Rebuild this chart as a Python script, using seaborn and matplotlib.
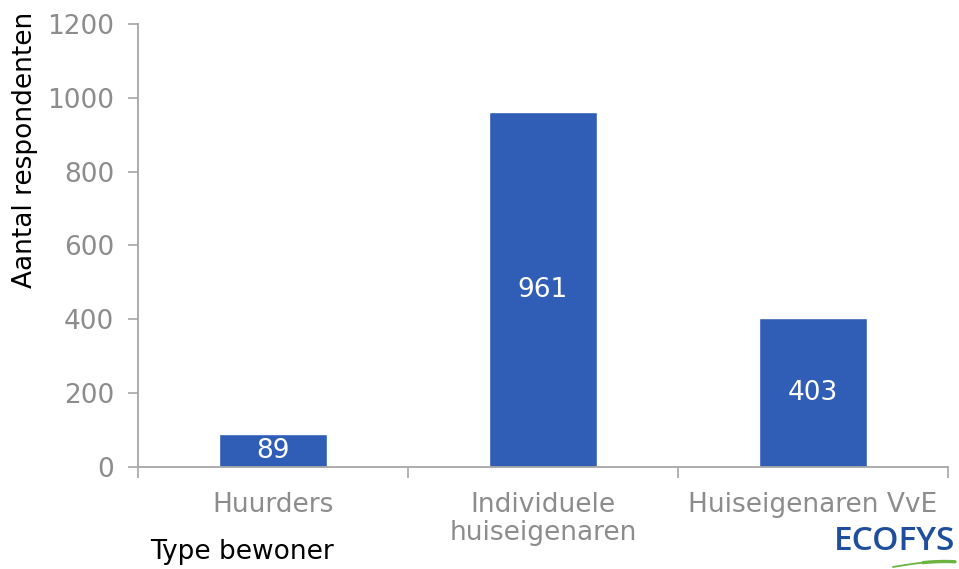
import matplotlib
matplotlib.use("Agg")
import matplotlib.pyplot as plt
import seaborn as sns
import pandas as pd
import numpy as np

categories = ["Huurders", "Individuele\nhuiseigenaren", "Huiseigenaren VvE"]
respondents = [89, 961, 403]
y_ticks = [0, 200, 400, 600, 800, 1000, 1200]

df = pd.DataFrame({"type": categories, "n": respondents})

sns.set_style("white")
plt.rcParams["font.family"] = ["DejaVu Sans"]

bar_color = "#305DB6"
axis_color = "#A6A6A6"
tick_color = "#8C8C8C"
fs = 19

fig = plt.figure(figsize=(9.59, 5.69), dpi=100)
ax = fig.add_axes([0.1439, 0.1793, 0.8446, 0.7785])

sns.barplot(data=df, x="type", y="n", color=bar_color, width=0.4,
            saturation=1, ax=ax)

ax.set_ylim(0, 1200)
ax.set_xlim(-0.5, 2.5)
ax.set_yticks(y_ticks)
ax.set_yticklabels([str(t) for t in y_ticks])

# Category boundary ticks below the axis, labels at category centres
ax.set_xticks([-0.5, 0.5, 1.5, 2.5])
ax.set_xticklabels([])
ax.set_xticks([0, 1, 2], minor=True)
ax.set_xticklabels(categories, minor=True, linespacing=1.1)
ax.tick_params(axis="x", which="major", direction="out", length=8,
               width=1.2, color=axis_color, bottom=True)
ax.tick_params(axis="x", which="minor", length=0, pad=18,
               labelsize=fs, labelcolor=tick_color)
ax.tick_params(axis="y", direction="out", length=7, width=1.2,
               color=axis_color, left=True, labelsize=fs,
               labelcolor=tick_color, pad=10)

for side in ["top", "right"]:
    ax.spines[side].set_visible(False)
for side in ["left", "bottom"]:
    ax.spines[side].set_color(axis_color)
    ax.spines[side].set_linewidth(1.3)

ax.set_xlabel("")
ax.set_ylabel("Aantal respondenten", fontsize=fs, color="black")
ax.yaxis.set_label_coords(-0.124, 0.715)

for bar, v in zip(ax.patches, respondents):
    ax.text(bar.get_x() + bar.get_width() / 2, v / 2, str(v),
            ha="center", va="center", color="white", fontsize=fs)

fig.text(150 / 959, 1 - 552 / 569, "Type bewoner", fontsize=fs,
         color="black", ha="left", va="center")

# ECOFYS mark
fig.text(895 / 959, 1 - 541 / 569, "ECOFYS", fontsize=24,
         family=["Open Sans", "DejaVu Sans"], fontweight="semibold",
         color="#1F4E9C", ha="center", va="center")
logo_ax = fig.add_axes([880 / 959, 0, 79 / 959, 14 / 569])
logo_ax.set_xlim(880, 959)
logo_ax.set_ylim(569, 555)
logo_ax.axis("off")
xs = np.linspace(893, 955, 40)
ys = 567 - 5.5 * np.sin((xs - 893) / 62 * np.pi * 0.6)
logo_ax.plot(xs[:20], ys[:20], color="#6DB33F", lw=1.3, solid_capstyle="round")
logo_ax.plot(xs[19:], ys[19:], color="#6DB33F", lw=2.4, solid_capstyle="round")

fig.savefig("out.png", dpi=100)
